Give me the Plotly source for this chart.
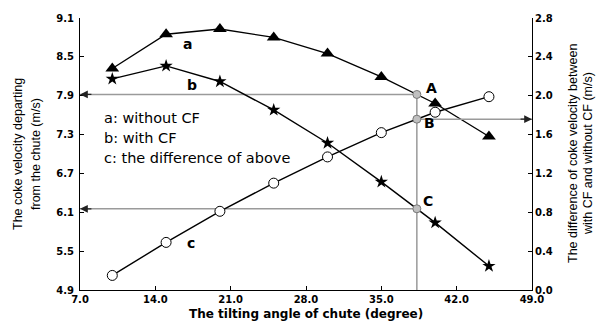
import numpy as np
import plotly.graph_objects as go

# ---- data ----
angle = [10, 15, 20, 25, 30, 35, 40, 45]
vel_without_cf = [8.32, 8.85, 8.93, 8.80, 8.55, 8.19, 7.78, 7.27]   # a
vel_with_cf = [8.16, 8.36, 8.12, 7.68, 7.17, 6.57, 5.94, 5.27]      # b
vel_difference = [0.15, 0.49, 0.81, 1.10, 1.37, 1.62, 1.83, 1.99]  # c (right axis)

marked_angle = 38.3  # vertical reference line
x_ticks = [7.0, 14.0, 21.0, 28.0, 35.0, 42.0, 49.0]
y_left_ticks = [4.9, 5.5, 6.1, 6.7, 7.3, 7.9, 8.5, 9.1]
y_right_ticks = [0.0, 0.4, 0.8, 1.2, 1.6, 2.0, 2.4, 2.8]

left_title = ["The coke velocity departing", "from the chute (m/s)"]
right_title = ["The difference of coke velocity between", "with CF and without CF (m/s)"]
x_title = "The tilting angle of chute (degree)"

xa = np.array(angle, float)
A_val = float(np.interp(marked_angle, xa, vel_without_cf))
B_val = float(np.interp(marked_angle, xa, vel_difference))
C_val = float(np.interp(marked_angle, xa, vel_with_cf))

FONT = "Liberation Sans, Arial, sans-serif"
WIDE = "DejaVu Sans, Verdana, sans-serif"
GRAY = "#9a9a9a"

fig = go.Figure()

# reference lines (gray)
fig.add_trace(go.Scatter(x=[x_ticks[0], marked_angle, marked_angle], y=[A_val, A_val, y_left_ticks[0]],
                         mode="lines", line=dict(color=GRAY, width=1.5), showlegend=False, hoverinfo="skip"))
fig.add_trace(go.Scatter(x=[x_ticks[0], marked_angle], y=[C_val, C_val],
                         mode="lines", line=dict(color=GRAY, width=1.5), showlegend=False, hoverinfo="skip"))
fig.add_trace(go.Scatter(x=[marked_angle, x_ticks[-1]], y=[B_val, B_val], yaxis="y2",
                         mode="lines", line=dict(color=GRAY, width=1.5), showlegend=False, hoverinfo="skip"))

# series
fig.add_trace(go.Scatter(x=angle, y=vel_without_cf, mode="lines+markers", name="a",
                         line=dict(color="black", width=1.4),
                         marker=dict(symbol="triangle-up", size=12, color="black"), showlegend=False))
fig.add_trace(go.Scatter(x=angle, y=vel_with_cf, mode="lines+markers", name="b",
                         line=dict(color="black", width=1.4),
                         marker=dict(symbol="star", size=10, color="black"), showlegend=False))
fig.add_trace(go.Scatter(x=angle, y=vel_difference, mode="lines+markers", name="c", yaxis="y2",
                         line=dict(color="black", width=1.4),
                         marker=dict(symbol="circle", size=10, color="white",
                                     line=dict(color="black", width=1)), showlegend=False))

# A, C points (left axis) and B (right axis)
fig.add_trace(go.Scatter(x=[marked_angle, marked_angle], y=[A_val, C_val], mode="markers",
                         marker=dict(symbol="circle", size=8, color="#c0c0c0", line=dict(color="#777", width=1)),
                         showlegend=False, hoverinfo="skip"))
fig.add_trace(go.Scatter(x=[marked_angle], y=[B_val], yaxis="y2", mode="markers",
                         marker=dict(symbol="circle", size=8, color="#c0c0c0", line=dict(color="#777", width=1)),
                         showlegend=False, hoverinfo="skip"))

ann = []
# arrowheads
for yv, yr, xt, xs in [(A_val, "y", x_ticks[0], x_ticks[0] + 1.2),
                       (C_val, "y", x_ticks[0], x_ticks[0] + 1.2),
                       (B_val, "y2", x_ticks[-1], x_ticks[-1] - 1.2)]:
    ann.append(dict(x=xt, y=yv, xref="x", yref=yr, ax=xs, ay=yv, axref="x", ayref=yr,
                    showarrow=True, arrowhead=2, arrowsize=1.3, arrowwidth=1.2,
                    arrowcolor="#222", text=""))

def lab(t, x, y, size=14, bold=True, yref="y", xanchor="center"):
    return dict(x=x, y=y, xref="x", yref=yref, text=f"<b>{t}</b>" if bold else t,
                showarrow=False, font=dict(family=WIDE, size=size, color="black"),
                xanchor=xanchor, yanchor="middle")

ann += [lab("a", 17.0, 8.70), lab("b", 17.4, 8.07), lab("c", 17.3, 5.63),
        lab("A", 39.7, 8.02), lab("B", 39.5, 7.48), lab("C", 39.3, 6.27)]
ann += [lab("a: without CF", 9.0, 7.55, size=14.5, bold=False, xanchor="left"),
        lab("b: with CF", 9.0, 7.245, size=14.5, bold=False, xanchor="left"),
        lab("c: the difference of above", 9.0, 6.94, size=14.5, bold=False, xanchor="left")]

# axis titles (paper coords are relative to the plot area)
for txt, shift in zip(left_title, [-62, -44]):
    ann.append(dict(x=0, y=0.5, xref="paper", yref="paper", xanchor="center", yanchor="middle",
                    xshift=shift, text=txt, textangle=-90, showarrow=False,
                    font=dict(family=FONT, size=12.5, color="black")))
for txt, shift in zip(right_title, [41, 56]):
    ann.append(dict(x=1.0, y=0.5, xref="paper", yref="paper", xanchor="center", yanchor="middle",
                    xshift=shift, text=txt, textangle=-90, showarrow=False,
                    font=dict(family=FONT, size=12.5, color="black")))
ann.append(dict(x=0.5, y=0, xref="paper", yref="paper", xanchor="center", yanchor="middle", yshift=-24,
                text=f"<b>{x_title}</b>", showarrow=False,
                font=dict(family=WIDE, size=12, color="black")))

axis_common = dict(showgrid=False, zeroline=False, ticks="inside", ticklen=4, tickwidth=1,
                   tickcolor="black", showline=True, linecolor="black", linewidth=1.2,
                   tickfont=dict(family=WIDE, size=10, color="black", weight="bold"), tickformat=".1f")

fig.update_layout(
    width=598, height=321,
    margin=dict(l=80, r=66, t=16, b=31),
    paper_bgcolor="white", plot_bgcolor="white",
    xaxis=dict(range=[x_ticks[0], x_ticks[-1]], tickvals=x_ticks, **axis_common),
    yaxis=dict(range=[y_left_ticks[0], y_left_ticks[-1]], tickvals=y_left_ticks, ticklabelstandoff=3,
               **axis_common),
    yaxis2=dict(range=[y_right_ticks[0], y_right_ticks[-1]], tickvals=y_right_ticks, overlaying="y",
                side="right", **axis_common),
    annotations=ann,
    showlegend=False,
)

fig.write_html("out.html", config={"displayModeBar": False},
               post_script="document.body.style.margin='0';")
